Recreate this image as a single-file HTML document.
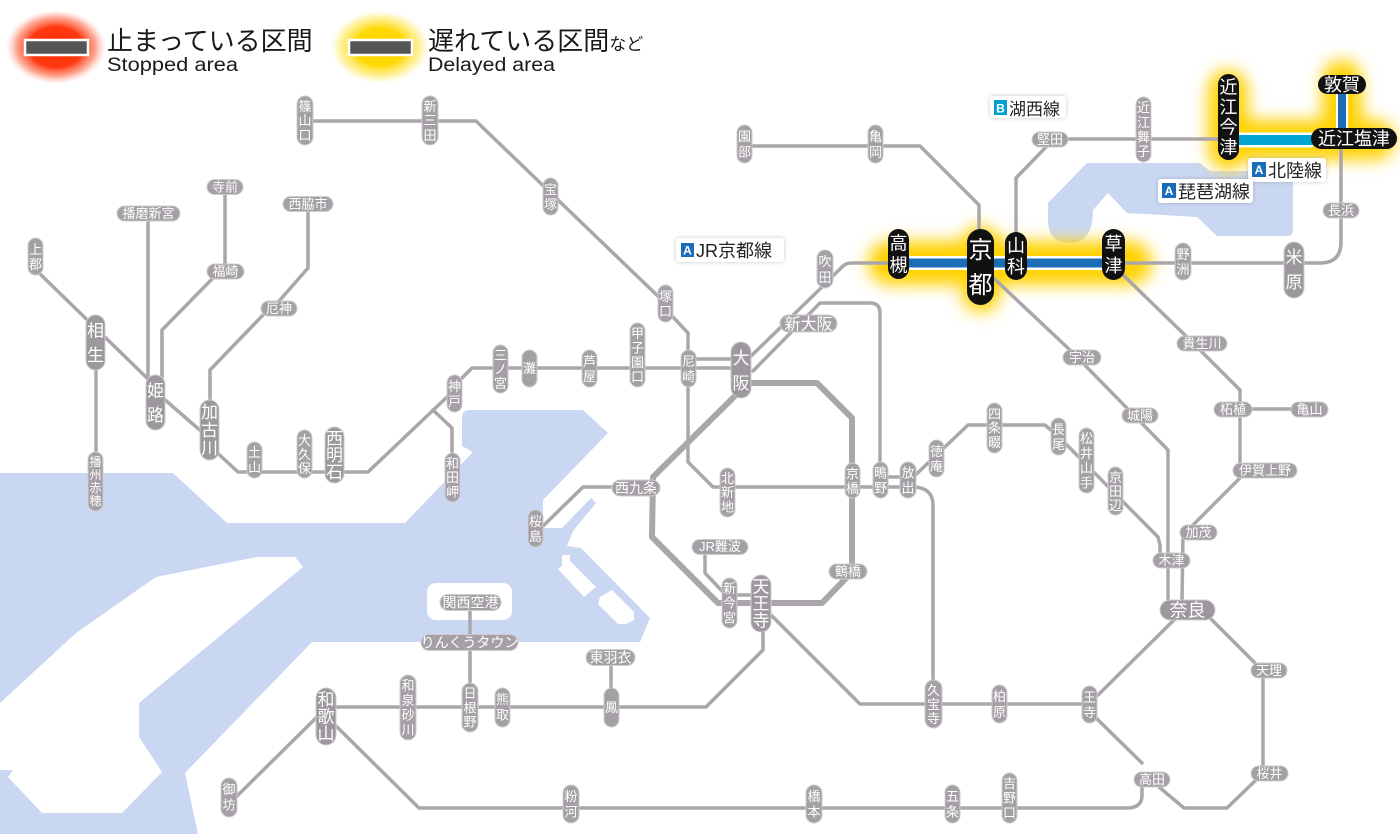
<!DOCTYPE html>
<html><head><meta charset="utf-8"><style>
html,body{margin:0;padding:0;background:#fff;}
svg{display:block;}
.t{fill:#fff;text-anchor:middle;font-size:13px;}
.tb{fill:#fff;text-anchor:middle;font-size:17px;}
.tk{fill:#fff;text-anchor:middle;font-size:18px;}
.p{fill:#a4a0a5;stroke:#cfccd0;stroke-width:1;}
.pb{fill:#9c989d;stroke:#cfccd0;stroke-width:1;}
.k{fill:#111;}
.lb{fill:#222;font-size:18px;}
.bd{fill:#fff;font-size:12px;font-weight:bold;text-anchor:middle;}
</style></head><body>
<svg width="1400" height="834" viewBox="0 0 1400 834" xmlns="http://www.w3.org/2000/svg" font-family="'Liberation Sans','Noto Sans CJK JP',sans-serif">
<defs>
<filter id="bl" x="-50%" y="-50%" width="200%" height="200%"><feGaussianBlur stdDeviation="8"/></filter>
<filter id="sh" x="-20%" y="-40%" width="140%" height="180%"><feGaussianBlur in="SourceAlpha" stdDeviation="2"/><feComponentTransfer><feFuncA type="linear" slope="0.22"/></feComponentTransfer><feMerge><feMergeNode/><feMergeNode in="SourceGraphic"/></feMerge></filter>
<radialGradient id="rg" cx="0.5" cy="0.5" r="0.5"><stop offset="0" stop-color="#ff2a00"/><stop offset="0.55" stop-color="#ff3a10"/><stop offset="0.8" stop-color="#ff7050" stop-opacity="0.6"/><stop offset="1" stop-color="#ffb0a0" stop-opacity="0"/></radialGradient>
<radialGradient id="yg" cx="0.5" cy="0.5" r="0.5"><stop offset="0" stop-color="#ffd400"/><stop offset="0.5" stop-color="#ffd800"/><stop offset="0.8" stop-color="#ffe860" stop-opacity="0.6"/><stop offset="1" stop-color="#fff4b0" stop-opacity="0"/></radialGradient>
</defs>

<!-- sea -->
<path fill="#c9d7f2" d="M0,473 L173,473 L227,523 L405,523 L473,452 L462,446 L462,418 Q462,410 470,410 L583,410 L608,433 L543,500 L543,528 L562,528 L591,498 L596,503 L573,531 L567,546 L581,548 L650,618 L640,642 L312,642 L185,773 L198,834 L0,834 Z"/>
<path fill="#fff" d="M0,703 L76,633 L156,577 L206,567 L257,557 L295,557 L303,567 L139,703 L139,737 L162,772 L122,813 L42,813 L8,777 L13,770 L0,770 Z"/>
<rect x="427" y="583" width="85" height="37" rx="9" fill="#fff"/>
<polygon fill="#fff" points="546,555 562,555 562,566 558,569 584,597 596,587 570,561 570,555"/>
<polygon fill="#fff" points="600,597 612,590 634,612 634,620 626,624 618,624 598,604"/>
<!-- lake biwa -->
<path fill="#c9d7f2" d="M1087,163 L1200,163 L1210,171 L1287,171 Q1293,171 1293,178 L1293,230 Q1293,236 1287,236 L1217,236 L1197,217 L1127,213 L1108,193 L1093,210 Q1093,243 1070,243 Q1048,243 1048,220 L1048,203 Z"/>

<!-- legend -->
<ellipse cx="56" cy="47" rx="50" ry="37" fill="url(#rg)"/>
<ellipse cx="380" cy="47" rx="50" ry="37" fill="url(#yg)"/>
<rect x="25" y="40" width="63" height="15" fill="#555" stroke="#fff" stroke-width="2.5"/>
<rect x="349" y="40" width="63" height="15" fill="#555" stroke="#fff" stroke-width="2.5"/>
<text x="107" y="50" font-size="26" fill="#1a1a1a">止まっている区間</text>
<text x="107" y="71" font-size="19" fill="#1a1a1a" textLength="131" lengthAdjust="spacingAndGlyphs">Stopped area</text>
<text x="428" y="50" font-size="26" fill="#1a1a1a">遅れている区間<tspan font-size="17">など</tspan></text>
<text x="428" y="71" font-size="19" fill="#1a1a1a" textLength="127" lengthAdjust="spacingAndGlyphs">Delayed area</text>

<!-- glows -->
<g filter="url(#bl)" fill="#ffd200" stroke="#ffd200">
<path d="M890,263 L1130,263" stroke-width="44" stroke-linecap="round" fill="none"/>
<rect x="962" y="226" width="38" height="86" rx="18" stroke="none"/>
<path d="M1228,90 L1228,150 M1228,140 L1375,140 M1342,80 L1342,140" stroke-width="40" stroke-linecap="round" fill="none"/>
</g>

<!-- lines -->
<g fill="none" stroke="#aaa6ab" stroke-width="3.5" stroke-linejoin="round" stroke-linecap="round">
<path d="M38,272 L150,381 L164,399 L209,438 L212,448 L238,472 L368,472 L447,397 L462,378 L472,368 L740,368"/>
<path d="M433,410 L452,428 L452,455"/>
<path d="M225,194 L225,266"/>
<path d="M213,278 L162,330 L162,378"/>
<path d="M148,220 L148,378"/>
<path d="M308,211 L308,268 L280,300 L263,315 L210,370 L210,402"/>
<path d="M96,370 L96,455"/>
<path d="M305,121 L476,121 L664,302 L673,317 L688,333 L688,462 L713,487 L916,487"/>
<path d="M688,359 L740,359"/>
<path d="M745,362 L822,287 L843,266 Q846,263 852,263 L1320,263 Q1341,263 1341,242 L1341,148"/>
<path d="M753,371 L820,303 L870,303 Q880,303 880,313 L880,480"/>
<path d="M880,477 L908,477"/>
<path d="M908,482 L968,425 L1045,425 L1060,438 L1158,537 L1160,545 L1160,560"/>
<path d="M914,487 Q933,488 933,505 L933,704"/>
<path d="M741,390 L653,477 L652,537 L718,603 L822,603 L852,572 L852,418 L817,383 L745,383" stroke-width="6"/>
<path d="M729,595 L761,595"/>
<path d="M705,553 L705,573 L723,592"/>
<path d="M763,630 L763,650 L706,707 L335,707"/>
<path d="M768,612 L860,704 L1089,704"/>
<path d="M1098,695 L1176,618"/>
<path d="M1210,618 L1263,671 L1263,773 L1256,780 L1227,808 L1184,808 L1159,787"/>
<path d="M1142,763 L1095,717"/>
<path d="M1142,787 L1142,795 Q1142,808 1127,808 L419,808 L335,725"/>
<path d="M318,716 L236,797"/>
<path d="M470,610 L470,683"/>
<path d="M611,665 L611,688"/>
<path d="M612,487 L583,487 L542,527"/>
<path d="M985,270 L1070,350 L1168,450 L1168,600"/>
<path d="M1118,270 L1190,340 L1240,390 L1240,478 L1183,535 L1182,600"/>
<path d="M1252,409 L1291,409"/>
<path d="M1016,232 L1016,178 L1047,146"/>
<path d="M1068,139 L1218,139"/>
<path d="M752,146 L920,146 L979,205 L979,229"/>
</g>

<!-- colored bands -->
<path d="M905,263 L1105,263" stroke="#fff" stroke-width="14" fill="none"/>
<path d="M905,263 L1105,263" stroke="#1b6db5" stroke-width="9" fill="none"/>
<path d="M1236,140 L1313,140" stroke="#fff" stroke-width="15" fill="none"/>
<path d="M1236,140 L1313,140" stroke="#00a6cf" stroke-width="10" fill="none"/>
<path d="M1342,92 L1342,130" stroke="#fff" stroke-width="12" fill="none"/>
<path d="M1342,92 L1342,130" stroke="#1b6db5" stroke-width="8" fill="none"/>

<!-- vertical pills -->
<g>
<rect class="p" x="297" y="96" width="16" height="49" rx="8"/><text class="t" x="305" y="111">篠</text><text class="t" x="305" y="125">山</text><text class="t" x="305" y="140">口</text>
<rect class="p" x="422" y="96" width="16" height="49" rx="8"/><text class="t" x="430" y="111">新</text><text class="t" x="430" y="125">三</text><text class="t" x="430" y="140">田</text>
<rect class="p" x="543" y="178" width="15" height="37" rx="7.5"/><text class="t" x="550.5" y="194">宝</text><text class="t" x="550.5" y="209">塚</text>
<rect class="p" x="658" y="285" width="15" height="37" rx="7.5"/><text class="t" x="665.5" y="301">塚</text><text class="t" x="665.5" y="316">口</text>
<rect class="p" x="681" y="350" width="15" height="37" rx="7.5"/><text class="t" x="688.5" y="366">尼</text><text class="t" x="688.5" y="381">崎</text>
<rect class="pb" x="731" y="342" width="20" height="56" rx="10"/><text class="tb" x="741" y="364">大</text><text class="tb" x="741" y="389">阪</text>
<rect class="p" x="630" y="323" width="15" height="64" rx="7.5"/><text class="t" x="637.5" y="338">甲</text><text class="t" x="637.5" y="352.5">子</text><text class="t" x="637.5" y="367">園</text><text class="t" x="637.5" y="381.5">口</text>
<rect class="p" x="582" y="350" width="15" height="37" rx="7.5"/><text class="t" x="589.5" y="366">芦</text><text class="t" x="589.5" y="381">屋</text>
<rect class="p" x="522" y="350" width="15" height="37" rx="7.5"/><text class="t" x="529.5" y="373">灘</text>
<rect class="p" x="493" y="345" width="15" height="48" rx="7.5"/><text class="t" x="500.5" y="360">三</text><text class="t" x="500.5" y="374">ノ</text><text class="t" x="500.5" y="388">宮</text>
<rect class="p" x="447" y="375" width="15" height="37" rx="7.5"/><text class="t" x="454.5" y="391">神</text><text class="t" x="454.5" y="406">戸</text>
<rect class="p" x="445" y="453" width="15" height="49" rx="7.5"/><text class="t" x="452.5" y="468">和</text><text class="t" x="452.5" y="482">田</text><text class="t" x="452.5" y="496.5">岬</text>
<rect class="pb" x="325" y="427" width="19" height="56" rx="9.5"/><text class="tb" x="334.5" y="444.4">西</text><text class="tb" x="334.5" y="461">明</text><text class="tb" x="334.5" y="477.8">石</text>
<rect class="p" x="297" y="430" width="15" height="48" rx="7.5"/><text class="t" x="304.5" y="445">大</text><text class="t" x="304.5" y="459">久</text><text class="t" x="304.5" y="473">保</text>
<rect class="p" x="247" y="442" width="15" height="36" rx="7.5"/><text class="t" x="254.5" y="457">土</text><text class="t" x="254.5" y="472">山</text>
<rect class="pb" x="200" y="400" width="19" height="60" rx="9.5"/><text class="tb" x="209.5" y="418">加</text><text class="tb" x="209.5" y="436">古</text><text class="tb" x="209.5" y="454">川</text>
<rect class="pb" x="146" y="375" width="19" height="55" rx="9.5"/><text class="tb" x="155.5" y="396.4">姫</text><text class="tb" x="155.5" y="420.9">路</text>
<rect class="pb" x="86" y="315" width="19" height="55" rx="9.5"/><text class="tb" x="95.5" y="336.4">相</text><text class="tb" x="95.5" y="360.9">生</text>
<rect class="p" x="28" y="238" width="15" height="37" rx="7.5"/><text class="t" x="35.5" y="254">上</text><text class="t" x="35.5" y="269">郡</text>
<rect class="p" x="88" y="452" width="15" height="59" rx="7.5"/><text class="t" x="95.5" y="466" style="font-size:12px">播</text><text class="t" x="95.5" y="479" style="font-size:12px">州</text><text class="t" x="95.5" y="492" style="font-size:12px">赤</text><text class="t" x="95.5" y="505" style="font-size:12px">穂</text>
<rect class="p" x="737" y="125" width="15" height="38" rx="7.5"/><text class="t" x="744.5" y="141">園</text><text class="t" x="744.5" y="156.5">部</text>
<rect class="p" x="868" y="125" width="15" height="38" rx="7.5"/><text class="t" x="875.5" y="141">亀</text><text class="t" x="875.5" y="156.5">岡</text>
<rect class="p" x="817" y="250" width="16" height="38" rx="8"/><text class="t" x="825" y="266">吹</text><text class="t" x="825" y="282">田</text>
<rect class="p" x="1175" y="243" width="16" height="37" rx="8"/><text class="t" x="1183" y="259">野</text><text class="t" x="1183" y="274">洲</text>
<rect class="pb" x="1284" y="242" width="20" height="56" rx="10"/><text class="tb" x="1294" y="263">米</text><text class="tb" x="1294" y="288">原</text>
<rect class="p" x="1136" y="97" width="15" height="65" rx="7.5"/><text class="t" x="1143.5" y="112">近</text><text class="t" x="1143.5" y="127">江</text><text class="t" x="1143.5" y="141.5">舞</text><text class="t" x="1143.5" y="156">子</text>
<rect class="p" x="720" y="468" width="15" height="49" rx="7.5"/><text class="t" x="727.5" y="483">北</text><text class="t" x="727.5" y="497">新</text><text class="t" x="727.5" y="511.5">地</text>
<rect class="p" x="845" y="463" width="15" height="35" rx="7.5"/><text class="t" x="852.5" y="478.5">京</text><text class="t" x="852.5" y="493">橋</text>
<rect class="p" x="873" y="462" width="15" height="36" rx="7.5"/><text class="t" x="880.5" y="477.7">鴫</text><text class="t" x="880.5" y="492.7">野</text>
<rect class="p" x="900" y="462" width="16" height="36" rx="8"/><text class="t" x="908" y="477.7">放</text><text class="t" x="908" y="492.7">出</text>
<rect class="p" x="528" y="510" width="15" height="37" rx="7.5"/><text class="t" x="535.5" y="526">桜</text><text class="t" x="535.5" y="541">島</text>
<rect class="p" x="722" y="578" width="15" height="50" rx="7.5"/><text class="t" x="729.5" y="593">新</text><text class="t" x="729.5" y="607.7">今</text><text class="t" x="729.5" y="622.4">宮</text>
<rect class="pb" x="751" y="575" width="20" height="57" rx="10"/><text class="tb" x="761" y="592.6">天</text><text class="tb" x="761" y="609.6">王</text><text class="tb" x="761" y="626.6">寺</text>
<rect class="p" x="929" y="440" width="15" height="37" rx="7.5"/><text class="t" x="936.5" y="456">徳</text><text class="t" x="936.5" y="471">庵</text>
<rect class="p" x="987" y="403" width="15" height="50" rx="7.5"/><text class="t" x="994.5" y="418.3">四</text><text class="t" x="994.5" y="432.7">条</text><text class="t" x="994.5" y="447">畷</text>
<rect class="p" x="1051" y="418" width="15" height="37" rx="7.5"/><text class="t" x="1058.5" y="434">長</text><text class="t" x="1058.5" y="449">尾</text>
<rect class="p" x="1079" y="428" width="15" height="65" rx="7.5"/><text class="t" x="1086.5" y="443">松</text><text class="t" x="1086.5" y="458">井</text><text class="t" x="1086.5" y="472.6">山</text><text class="t" x="1086.5" y="487.3">手</text>
<rect class="p" x="1108" y="467" width="15" height="48" rx="7.5"/><text class="t" x="1115.5" y="482">京</text><text class="t" x="1115.5" y="496">田</text><text class="t" x="1115.5" y="510">辺</text>
<rect class="p" x="925" y="680" width="17" height="48" rx="8.5"/><text class="t" x="933.5" y="695">久</text><text class="t" x="933.5" y="709">宝</text><text class="t" x="933.5" y="723">寺</text>
<rect class="p" x="992" y="685" width="15" height="38" rx="7.5"/><text class="t" x="999.5" y="701">柏</text><text class="t" x="999.5" y="716.5">原</text>
<rect class="p" x="1082" y="686" width="15" height="37" rx="7.5"/><text class="t" x="1089.5" y="702">王</text><text class="t" x="1089.5" y="717">寺</text>
<rect class="p" x="1002" y="773" width="15" height="50" rx="7.5"/><text class="t" x="1009.5" y="788">吉</text><text class="t" x="1009.5" y="802.7">野</text><text class="t" x="1009.5" y="817.4">口</text>
<rect class="p" x="945" y="785" width="15" height="38" rx="7.5"/><text class="t" x="952.5" y="801">五</text><text class="t" x="952.5" y="816.5">条</text>
<rect class="p" x="806" y="785" width="16" height="38" rx="8"/><text class="t" x="814" y="801">橋</text><text class="t" x="814" y="816.5">本</text>
<rect class="p" x="563" y="785" width="16" height="38" rx="8"/><text class="t" x="571" y="801">粉</text><text class="t" x="571" y="816.5">河</text>
<rect class="p" x="221" y="778" width="16" height="39" rx="8"/><text class="t" x="229" y="794">御</text><text class="t" x="229" y="809.5">坊</text>
<rect class="pb" x="316" y="688" width="20" height="57" rx="10"/><text class="tb" x="326" y="705.6">和</text><text class="tb" x="326" y="722.6">歌</text><text class="tb" x="326" y="739.6">山</text>
<rect class="p" x="400" y="675" width="16" height="65" rx="8"/><text class="t" x="408" y="690">和</text><text class="t" x="408" y="705">泉</text><text class="t" x="408" y="719.6">砂</text><text class="t" x="408" y="734.3">川</text>
<rect class="p" x="462" y="683" width="16" height="49" rx="8"/><text class="t" x="470" y="698">日</text><text class="t" x="470" y="712.4">根</text><text class="t" x="470" y="726.7">野</text>
<rect class="p" x="495" y="688" width="15" height="39" rx="7.5"/><text class="t" x="502.5" y="704">熊</text><text class="t" x="502.5" y="719.5">取</text>
<rect class="p" x="604" y="688" width="15" height="39" rx="7.5"/><text class="t" x="611.5" y="712">鳳</text>
</g>

<!-- black pills -->
<g>
<rect class="k" x="888" y="229" width="21" height="50" rx="10.5"/><text class="tk" x="898.5" y="249.5">高</text><text class="tk" x="898.5" y="271.5">槻</text>
<rect class="k" x="967" y="229" width="27" height="76" rx="13.5"/><text class="tk" x="980.5" y="258" style="font-size:24px">京</text><text class="tk" x="980.5" y="293" style="font-size:24px">都</text>
<rect class="k" x="1005" y="232" width="22" height="48" rx="11"/><text class="tk" x="1016" y="252">山</text><text class="tk" x="1016" y="273">科</text>
<rect class="k" x="1102" y="229" width="23" height="51" rx="11.5"/><text class="tk" x="1113.5" y="250">草</text><text class="tk" x="1113.5" y="272">津</text>
<rect class="k" x="1218" y="74" width="21" height="86" rx="10.5"/><text class="tk" x="1228.5" y="93.5">近</text><text class="tk" x="1228.5" y="113.5">江</text><text class="tk" x="1228.5" y="133.5">今</text><text class="tk" x="1228.5" y="153.5">津</text>
<rect class="k" x="1311" y="128" width="86" height="21" rx="10.5"/><text class="tk" x="1354" y="145">近江塩津</text>
<rect class="k" x="1318" y="75" width="48" height="19" rx="9.5"/><text class="tk" x="1342" y="91">敦賀</text>
</g>

<!-- horizontal pills -->
<g>
<rect class="p" x="117" y="206" width="63" height="15" rx="7.5"/><text class="t" x="148.5" y="218.2">播磨新宮</text>
<rect class="p" x="207" y="179.5" width="36" height="15" rx="7.5"/><text class="t" x="225" y="191.7">寺前</text>
<rect class="p" x="283" y="196.5" width="50" height="15" rx="7.5"/><text class="t" x="308" y="208.7">西脇市</text>
<rect class="p" x="207" y="264" width="37" height="15" rx="7.5"/><text class="t" x="225.5" y="276.2">福崎</text>
<rect class="p" x="261" y="301" width="36" height="15" rx="7.5"/><text class="t" x="279" y="313.2">厄神</text>
<rect class="p" x="780" y="315" width="57" height="17" rx="8.5"/><text class="t" x="808.5" y="329.3" style="font-size:16px">新大阪</text>
<rect class="p" x="612" y="480" width="48" height="16" rx="8"/><text class="t" x="636" y="493" style="font-size:14px">西九条</text>
<rect class="p" x="692" y="539.5" width="56" height="15" rx="7.5"/><text class="t" x="720" y="551.2">JR難波</text>
<rect class="p" x="829" y="564" width="38" height="15" rx="7.5"/><text class="t" x="848" y="576.2">鶴橋</text>
<rect class="p" x="440" y="594.5" width="61" height="16" rx="8"/><text class="t" x="470.5" y="607.5" style="font-size:14px">関西空港</text>
<rect class="p" x="421" y="634.5" width="97" height="16" rx="8"/><text class="t" x="469.5" y="647.5" style="font-size:14px">りんくうタウン</text>
<rect class="p" x="586" y="649.5" width="49" height="16" rx="8"/><text class="t" x="610.5" y="662.5" style="font-size:14px">東羽衣</text>
<rect class="p" x="1063" y="350" width="38" height="15" rx="7.5"/><text class="t" x="1082" y="362.2">宇治</text>
<rect class="p" x="1122" y="408" width="36" height="15" rx="7.5"/><text class="t" x="1140" y="420.2">城陽</text>
<rect class="p" x="1153" y="553" width="37" height="15" rx="7.5"/><text class="t" x="1171.5" y="565.2">木津</text>
<rect class="pb" x="1160" y="600" width="55" height="20" rx="10"/><text class="t" x="1187.5" y="616.5" style="font-size:18px">奈良</text>
<rect class="p" x="1180" y="525" width="37" height="15" rx="7.5"/><text class="t" x="1198.5" y="537.2">加茂</text>
<rect class="p" x="1233" y="463" width="64" height="15" rx="7.5"/><text class="t" x="1265" y="475.2">伊賀上野</text>
<rect class="p" x="1214" y="402" width="38" height="15" rx="7.5"/><text class="t" x="1233" y="414.2">柘植</text>
<rect class="p" x="1291" y="402" width="37" height="15" rx="7.5"/><text class="t" x="1309.5" y="414.2">亀山</text>
<rect class="p" x="1177" y="336" width="50" height="15" rx="7.5"/><text class="t" x="1202" y="348.2">貴生川</text>
<rect class="p" x="1251" y="663" width="36" height="15" rx="7.5"/><text class="t" x="1269" y="675.2">天理</text>
<rect class="p" x="1251" y="766" width="37" height="15" rx="7.5"/><text class="t" x="1269.5" y="778.2">桜井</text>
<rect class="p" x="1134" y="772" width="36" height="15" rx="7.5"/><text class="t" x="1152" y="784.2">高田</text>
<rect class="p" x="1032" y="132" width="36" height="15" rx="7.5"/><text class="t" x="1050" y="144.2">堅田</text>
<rect class="p" x="1323" y="203" width="36" height="15" rx="7.5"/><text class="t" x="1341" y="215.2">長浜</text>
</g>

<!-- line labels -->
<g>
<rect x="990" y="96" width="76" height="22" rx="3" fill="#fff" filter="url(#sh)"/>
<rect x="994" y="100" width="13" height="15" fill="#00a0c8"/><text class="bd" x="1000.5" y="112.5">B</text>
<text class="lb" x="1009" y="115" style="font-size:17px">湖西線</text>

<rect x="676" y="238" width="108" height="24" rx="3" fill="#fff" filter="url(#sh)"/>
<rect x="681" y="243" width="13" height="14" fill="#1a6cb8"/><text class="bd" x="687.5" y="254.5">A</text>
<text class="lb" x="696" y="257">JR京都線</text>

<rect x="1248" y="158" width="78" height="24" rx="3" fill="#fff" filter="url(#sh)"/>
<rect x="1252" y="162" width="14" height="15" fill="#1a6cb8"/><text class="bd" x="1259" y="174">A</text>
<text class="lb" x="1268" y="177">北陸線</text>

<rect x="1158" y="179" width="95" height="24" rx="3" fill="#fff" filter="url(#sh)"/>
<rect x="1162" y="183" width="14" height="15" fill="#1a6cb8"/><text class="bd" x="1169" y="195">A</text>
<text class="lb" x="1178" y="198">琵琶湖線</text>
</g>
</svg>
</body></html>
